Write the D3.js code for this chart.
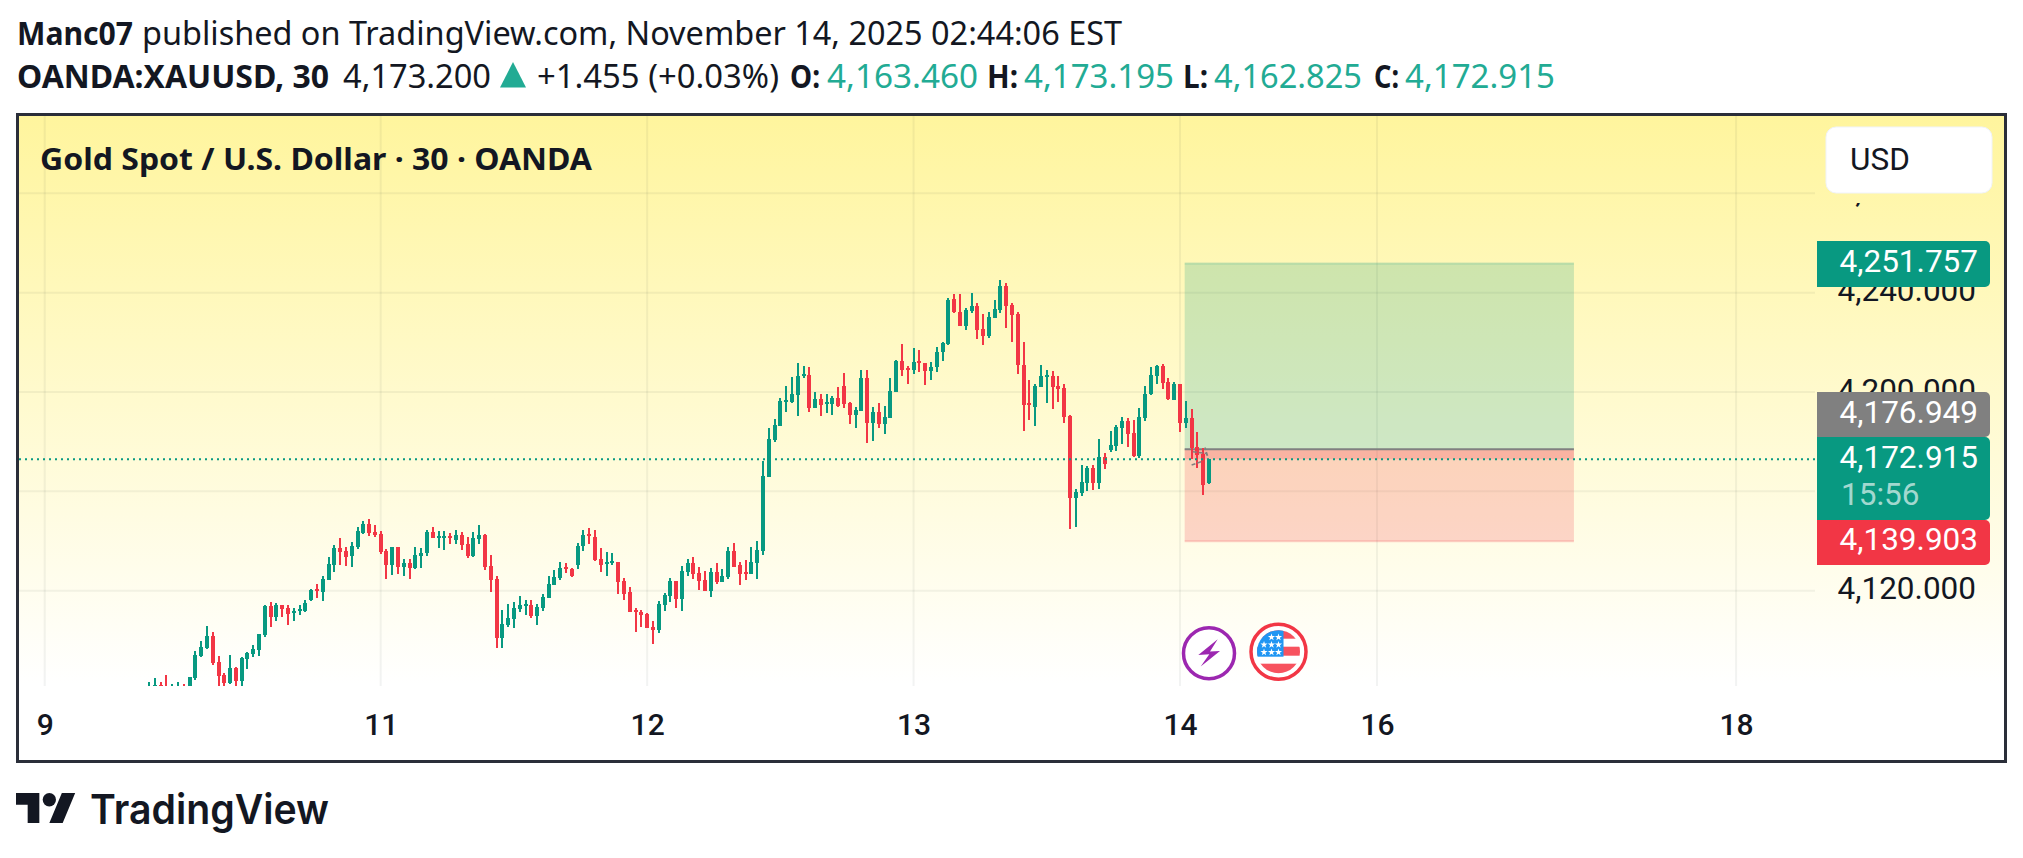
<!DOCTYPE html>
<html>
<head>
<meta charset="utf-8">
<style>
html, body { margin: 0; padding: 0; background: #fff; }
svg { display: block; }
text { fill: #131722; }
.head { font-family: "Noto Sans", sans-serif; font-size: 32px; }
.axis text { font-family: Roboto, sans-serif; font-size: 31.5px; fill: #131722; }
.tag { font-family: Roboto, sans-serif; font-size: 31.5px; fill: #fff; }
</style>
<script src="https://d3js.org/d3.v7.min.js"></script>
</head>
<body>
<svg width="2023" height="858"></svg>
<script>
// candles, 30 minute bars
var highs = [
  4083.2,4084.9,4083.2,4086.1,4082.4,4083.2,4082.4,4085.2,4095.7,4099.8,
  4105.8,4103.4,4093.7,4086.9,4094.1,4089.3,4093.3,4095.3,4098.1,4102.6,
  4114.3,4115.5,4115.1,4114.3,4114.3,4113.0,4114.3,4116.3,4120.7,4122.7,
  4125.9,4133.6,4138.4,4141.2,4137.6,4139.6,4145.7,4148.1,4148.9,4146.5,
  4144.1,4136.8,4137.6,4137.6,4132.8,4132.8,4137.6,4137.2,4144.5,4145.7,
  4144.1,4144.1,4143.3,4144.5,4143.7,4141.6,4143.7,4146.5,4142.9,4134.4,
  4125.9,4112.2,4114.7,4115.5,4117.9,4116.3,4116.3,4114.7,4118.7,4125.9,
  4128.4,4131.6,4131.2,4129.2,4139.2,4144.5,4145.3,4144.5,4137.2,4135.6,
  4135.2,4131.6,4125.1,4121.5,4113.0,4112.2,4111.0,4107.8,4115.9,4119.1,
  4125.1,4123.9,4130.0,4132.8,4133.6,4129.6,4128.0,4129.2,4131.2,4128.8,
  4137.6,4139.2,4131.6,4132.4,4137.6,4140.0,4172.2,4185.5,4189.2,4197.6,
  4202.5,4206.1,4211.7,4210.5,4210.1,4200.0,4199.2,4199.2,4198.4,4202.1,
  4207.7,4196.0,4194.0,4208.9,4208.9,4194.0,4195.6,4194.4,4205.7,4212.9,
  4219.4,4210.5,4217.8,4217.0,4211.7,4212.1,4218.2,4220.2,4237.9,4239.5,
  4239.5,4233.9,4239.9,4235.9,4231.5,4232.3,4237.1,4245.1,4243.9,4235.9,
  4232.3,4220.2,4204.9,4203.3,4210.9,4208.9,4208.5,4206.5,4203.3,4190.8,
  4161.0,4170.7,4170.3,4170.7,4181.1,4175.5,4184.4,4186.8,4190.0,4189.6,
  4188.8,4193.6,4202.5,4210.1,4210.9,4211.3,4205.7,4204.1,4203.3,4196.4,
  4193.2,4184.0,4177.5,4173.195
];
var opens = [
  4078.7,4080.0,4082.0,4080.7,4079.8,4080.0,4081.4,4078.7,4084.9,4093.7,
  4096.9,4101.8,4091.3,4086.1,4082.8,4088.9,4083.6,4092.5,4094.5,4096.1,
  4102.2,4113.9,4109.4,4114.3,4113.0,4111.0,4111.8,4111.8,4116.3,4120.7,
  4119.5,4124.3,4130.4,4137.2,4136.0,4134.0,4137.6,4143.3,4146.9,4143.7,
  4142.9,4136.0,4130.4,4137.6,4129.6,4131.2,4129.2,4134.0,4135.2,4143.7,
  4141.2,4141.2,4142.0,4140.4,4142.4,4138.8,4134.0,4140.8,4142.4,4130.0,
  4124.7,4101.0,4106.2,4108.6,4112.6,4113.9,4114.3,4109.8,4113.0,4117.1,
  4122.3,4125.1,4129.6,4128.8,4130.4,4138.0,4142.9,4141.6,4132.8,4130.8,
  4131.2,4131.6,4123.9,4119.5,4112.2,4111.4,4110.6,4105.4,4104.2,4114.3,
  4117.9,4123.9,4116.7,4127.5,4131.2,4127.1,4124.3,4119.9,4127.5,4123.5,
  4125.5,4136.0,4130.4,4127.5,4126.7,4131.2,4136.0,4165.8,4180.7,4186.3,
  4196.0,4196.0,4198.8,4206.5,4206.9,4193.6,4197.2,4195.2,4195.2,4197.6,
  4202.5,4195.6,4190.8,4192.4,4205.7,4187.6,4192.0,4187.2,4189.6,4200.0,
  4212.5,4209.7,4208.9,4212.5,4211.7,4208.5,4210.1,4216.1,4219.4,4237.5,
  4232.3,4226.6,4232.7,4234.7,4225.4,4222.6,4229.8,4233.1,4242.7,4235.1,
  4231.5,4210.9,4195.6,4194.0,4202.1,4206.1,4206.5,4202.5,4201.7,4190.4,
  4157.4,4159.4,4163.4,4169.5,4163.4,4173.9,4176.7,4178.3,4185.6,4188.4,
  4183.6,4174.3,4189.6,4199.3,4206.5,4210.5,4204.1,4196.8,4203.3,4187.6,
  4189.6,4177.9,4175.1,4163.46
];
var closes = [
  4080.7,4082.0,4080.0,4078.7,4080.7,4081.4,4080.0,4085.2,4094.1,4097.3,
  4101.8,4090.9,4085.7,4082.8,4088.9,4083.6,4092.9,4094.9,4096.5,4102.6,
  4113.9,4109.4,4114.3,4112.6,4110.6,4111.8,4112.6,4115.1,4120.3,4119.9,
  4124.7,4130.8,4137.2,4135.6,4133.6,4138.0,4144.1,4146.9,4143.3,4142.4,
  4135.6,4130.4,4137.6,4129.6,4131.2,4129.2,4134.4,4135.2,4143.7,4141.2,
  4142.0,4142.0,4141.2,4142.4,4138.4,4134.0,4141.2,4142.4,4129.6,4124.3,
  4101.0,4106.6,4109.0,4113.0,4114.3,4114.7,4109.8,4113.4,4117.5,4122.7,
  4125.5,4129.2,4128.8,4125.9,4138.0,4142.4,4142.0,4132.4,4130.4,4131.6,
  4132.0,4123.5,4118.7,4111.4,4111.4,4110.2,4105.0,4104.2,4114.7,4118.3,
  4123.9,4116.7,4128.0,4131.2,4126.7,4123.9,4119.9,4127.5,4123.5,4125.9,
  4136.0,4129.6,4126.7,4126.7,4131.6,4136.4,4166.2,4181.1,4186.7,4196.4,
  4196.8,4199.2,4206.5,4207.3,4193.6,4197.2,4194.8,4196.0,4197.6,4194.4,
  4195.2,4190.8,4192.8,4205.7,4187.6,4192.0,4187.2,4190.0,4200.4,4212.5,
  4208.9,4208.9,4212.1,4211.7,4208.5,4210.1,4216.1,4219.8,4237.1,4232.3,
  4226.6,4233.1,4234.7,4225.0,4222.6,4230.2,4233.5,4242.7,4234.7,4231.0,
  4210.9,4194.8,4194.8,4202.5,4206.5,4206.9,4202.1,4201.3,4190.0,4157.4,
  4159.8,4163.8,4169.5,4163.4,4173.9,4171.1,4178.7,4186.0,4188.4,4183.2,
  4174.3,4190.0,4199.3,4206.9,4210.5,4203.7,4197.2,4203.3,4187.6,4189.6,
  4177.5,4174.7,4162.6,4172.915
];
var lows = [
  4077.3,4078.7,4078.7,4077.3,4078.7,4078.7,4078.7,4078.0,4084.0,4093.3,
  4096.5,4090.1,4080.7,4080.7,4082.4,4080.7,4080.7,4088.5,4093.3,4093.7,
  4101.4,4105.4,4107.8,4109.4,4106.2,4107.8,4110.2,4111.4,4115.9,4117.1,
  4115.9,4124.3,4127.5,4130.4,4130.0,4129.6,4136.8,4142.9,4142.0,4141.6,
  4134.8,4124.7,4126.3,4126.7,4125.9,4124.7,4128.8,4129.2,4134.0,4141.2,
  4137.2,4136.4,4138.8,4138.8,4136.4,4133.2,4133.6,4138.8,4128.4,4119.5,
  4096.9,4096.9,4105.4,4105.0,4111.4,4110.2,4109.0,4106.2,4111.8,4117.1,
  4122.3,4124.3,4127.1,4125.5,4128.8,4136.0,4138.8,4132.0,4127.5,4125.9,
  4130.4,4118.7,4116.3,4111.4,4103.4,4105.4,4105.0,4098.5,4103.0,4111.8,
  4115.5,4113.0,4111.8,4125.9,4124.7,4120.3,4119.9,4117.5,4122.7,4123.5,
  4124.7,4129.6,4122.3,4124.3,4126.7,4124.7,4134.4,4165.8,4179.9,4186.3,
  4192.0,4195.6,4190.4,4205.7,4192.0,4193.6,4190.4,4191.6,4190.8,4194.0,
  4193.6,4187.2,4185.5,4192.4,4179.5,4180.3,4185.5,4183.1,4189.6,4200.0,
  4206.5,4203.3,4207.3,4208.1,4202.9,4204.9,4208.1,4212.5,4219.0,4231.9,
  4226.6,4225.0,4231.9,4221.4,4219.0,4221.8,4229.8,4231.9,4225.8,4220.2,
  4207.3,4184.3,4188.8,4186.3,4202.1,4195.6,4193.2,4196.0,4187.6,4144.9,
  4145.7,4158.2,4160.2,4160.6,4161.0,4169.1,4175.9,4176.3,4179.1,4177.9,
  4173.9,4173.5,4188.4,4198.9,4203.3,4201.3,4196.8,4196.8,4184.0,4185.6,
  4173.1,4169.5,4158.6,4162.825
];

var priceTicks = [4120, 4160, 4200, 4240, 4280];
var labelledTicks = [4120, 4200, 4240, 4280];
var dayBars = [-18, 40, 86, 132, 178, 212, 274];
var dayLabels = ["9", "11", "12", "13", "14", "16", "18"];

var lastPrice = 4172.915;
var targetPrice = 4251.757;
var entryPrice = 4176.949;
var stopPrice = 4139.903;
var toolBars = [178.8, 246];

// the small grey tool path around the last bars
var tracks = [
  { bars: [180, 181.7], prices: [4170.6, 4172] },
  { bars: [180.2, 182.5, 182.8, 182.3], prices: [4176, 4175.3, 4174, 4177.7] }
];

var green = "#089981", red = "#F23645", teal = "#22AB94", ink = "#131722";
var fmt = d3.format(",.3f");

var svg = d3.select("svg");

var x = d3.scaleLinear().domain([0, 183]).range([149, 1209]);
var y = d3.scaleLinear().domain([4120, 4240]).range([590.7, 292.7]);

var pane = { left: 19, right: 2005, top: 115, bottom: 761, gridRight: 1815, gridBottom: 686 };

var defs = svg.append("defs");
var grad = defs.append("linearGradient").attr("id", "bg").attr("x1", 0).attr("x2", 0).attr("y1", 0).attr("y2", 1);
grad.append("stop").attr("offset", 0).attr("stop-color", "#FFF59D");
grad.append("stop").attr("offset", 0.88).attr("stop-color", "#FFFFFF");
defs.append("clipPath").attr("id", "plot").append("rect")
    .attr("x", pane.left).attr("y", pane.top)
    .attr("width", pane.gridRight - pane.left).attr("height", pane.gridBottom - pane.top);
defs.append("clipPath").attr("id", "under-usd").append("rect")
    .attr("x", 1815).attr("y", 203).attr("width", 190).attr("height", 558);

svg.append("rect")
    .attr("x", pane.left).attr("y", pane.top)
    .attr("width", pane.right - pane.left).attr("height", pane.bottom - pane.top)
    .attr("fill", "url(#bg)");

// grid
var plot = svg.append("g").attr("clip-path", "url(#plot)");
plot.selectAll(".hgrid").data(priceTicks).enter().append("line")
    .attr("x1", pane.left).attr("x2", pane.gridRight)
    .attr("y1", function(d) { return y(d); }).attr("y2", function(d) { return y(d); })
    .attr("stroke", "rgba(42,46,57,0.06)").attr("stroke-width", 2);
plot.selectAll(".vgrid").data(dayBars).enter().append("line")
    .attr("x1", function(d) { return x(d); }).attr("x2", function(d) { return x(d); })
    .attr("y1", pane.top).attr("y2", pane.gridBottom)
    .attr("stroke", "rgba(42,46,57,0.06)").attr("stroke-width", 2);

// long position tool
var tool = plot.append("g");
tool.append("rect")
    .attr("x", x(toolBars[0])).attr("width", x(toolBars[1]) - x(toolBars[0]))
    .attr("y", y(targetPrice)).attr("height", y(entryPrice) - y(targetPrice))
    .attr("fill", "rgba(8,153,129,0.2)");
tool.append("rect")
    .attr("x", x(toolBars[0])).attr("width", x(toolBars[1]) - x(toolBars[0]))
    .attr("y", y(entryPrice)).attr("height", y(stopPrice) - y(entryPrice))
    .attr("fill", "rgba(242,54,69,0.2)");
tool.append("rect")
    .attr("x", x(toolBars[0])).attr("width", x(toolBars[1]) - x(toolBars[0]))
    .attr("y", y(entryPrice)).attr("height", y(lastPrice) - y(entryPrice))
    .attr("fill", "rgba(242,54,69,0.2)");
[[targetPrice, "rgba(8,153,129,0.2)"], [stopPrice, "rgba(242,54,69,0.2)"], [entryPrice, "#808080"]].forEach(function(e) {
  tool.append("line")
      .attr("x1", x(toolBars[0])).attr("x2", x(toolBars[1]))
      .attr("y1", y(e[0])).attr("y2", y(e[0]))
      .attr("stroke", e[1]).attr("stroke-width", 2);
});

// candles
var bars = plot.append("g").selectAll("g").data(d3.range(highs.length)).enter().append("g")
    .attr("fill", function(i) { return closes[i] >= opens[i] ? green : red; })
    .attr("shape-rendering", "crispEdges");
bars.append("rect")
    .attr("x", function(i) { return Math.round(x(i)) - 1; })
    .attr("width", 2)
    .attr("y", function(i) { return y(highs[i]); })
    .attr("height", function(i) { return y(lows[i]) - y(highs[i]); });
bars.append("rect")
    .attr("x", function(i) { return Math.round(x(i)) - 2; })
    .attr("width", 4)
    .attr("y", function(i) { return y(Math.max(opens[i], closes[i])); })
    .attr("height", function(i) { return Math.max(2, Math.abs(y(opens[i]) - y(closes[i]))); });

var trackLine = d3.line()
    .x(function(d) { return x(d[0]); })
    .y(function(d) { return y(d[1]); });
tracks.forEach(function(t) {
  plot.append("path")
      .attr("d", trackLine(d3.zip(t.bars, t.prices)))
      .attr("fill", "none").attr("stroke", "#808080").attr("stroke-width", 1.5)
      .attr("stroke-dasharray", "4 2");
});

// last price line
svg.append("line")
    .attr("x1", pane.left).attr("x2", pane.gridRight)
    .attr("y1", y(lastPrice)).attr("y2", y(lastPrice))
    .attr("stroke", green).attr("stroke-width", 2).attr("stroke-dasharray", "2 4");

// frame
svg.append("rect")
    .attr("x", 17.5).attr("y", 114.5)
    .attr("width", 1988).attr("height", 647)
    .attr("fill", "none").attr("stroke", "#2A2E39").attr("stroke-width", 3);

// axes
var xAxis = d3.axisBottom(x).tickValues(dayBars)
    .tickFormat(function(d, i) { return dayLabels[i]; }).tickSize(0);
var xg = svg.append("g").attr("class", "axis").attr("transform", "translate(0,735)").call(xAxis);
xg.select(".domain").remove();
xg.selectAll("text").attr("y", 0).attr("dy", 0).style("font-size", "30px").style("font-weight", 500);

var yAxis = d3.axisRight(y).tickValues(labelledTicks).tickFormat(fmt).tickSize(0);
var yg = svg.append("g").attr("class", "axis").attr("clip-path", "url(#under-usd)").append("g").call(yAxis);
yg.select(".domain").remove();
yg.selectAll("text").attr("x", 1976).attr("dy", "8px").attr("text-anchor", "end");

// price tags
var tags = svg.append("g");
function tag(top, bottom, fill) {
  tags.append("path")
      .attr("d", "M1817," + top + "H1985a5,5 0 0 1 5,5V" + (bottom - 5) + "a5,5 0 0 1 -5,5H1817Z")
      .attr("fill", fill);
}
function tagText(str, base, dim) {
  tags.append("text").attr("class", "tag")
      .attr("x", dim ? 1841 : 1978).attr("y", base)
      .attr("text-anchor", dim ? "start" : "end")
      .style("fill-opacity", dim ? 0.65 : 1)
      .text(str);
}
tag(241, 287, green);
tag(392, 437, "#808080");
tag(437, 520, green);
tag(520, 565, red);
tagText(fmt(targetPrice), 272);
tagText(fmt(entryPrice), 423);
tagText(fmt(lastPrice), 468);
tagText("15:56", 505, true);
tagText(fmt(stopPrice), 550);

// USD box
svg.append("rect")
    .attr("x", 1826).attr("y", 127).attr("width", 166).attr("height", 66).attr("rx", 10)
    .attr("fill", "#fff").attr("stroke", "#F0F3FA").attr("stroke-width", 1);
svg.append("text")
    .attr("x", 1850).attr("y", 169.5)
    .style("font-family", "Roboto, sans-serif").style("font-size", "31.5px")
    .text("USD");

// event icons
var bolt = svg.append("g").attr("transform", "translate(" + x(183) + ",653.3)");
bolt.append("circle").attr("r", 25.5).attr("fill", "#fff").attr("stroke", "#9C27B0").attr("stroke-width", 3.5);
bolt.append("path")
    .attr("d", "M8.7,-14L-10.7,1.7L0.3,1L-8.3,13.3L11,-2.3L1,-1.7Z")
    .attr("fill", "#9C27B0");

var flag = svg.append("g").attr("transform", "translate(" + x(195) + ",651.7)");
flag.append("circle").attr("r", 27.5).attr("fill", "#fff").attr("stroke", red).attr("stroke-width", 3.5);
defs.append("clipPath").attr("id", "flagclip").append("circle").attr("r", 21.5);
var flagInner = flag.append("g").attr("clip-path", "url(#flagclip)");
flagInner.append("rect").attr("x", -22).attr("y", -22).attr("width", 44).attr("height", 44).attr("fill", "#fff");
flagInner.append("rect").attr("x", -22).attr("y", -22).attr("width", 44).attr("height", 9).attr("fill", "#F7525F");
flagInner.append("rect").attr("x", -22).attr("y", -5).attr("width", 44).attr("height", 9).attr("fill", "#F7525F");
flagInner.append("rect").attr("x", -22).attr("y", 12).attr("width", 44).attr("height", 10).attr("fill", "#F7525F");
flagInner.append("rect").attr("x", -22).attr("y", -22).attr("width", 27).attr("height", 27).attr("fill", "#2196F3");
var star = d3.symbol().type(d3.symbolStar).size(16);
[-14.5, -7, 0.5].forEach(function(sy, r) {
  [-14.5, -7, 0].forEach(function(sx, c) {
    if (r === 0 && c === 0) return;
    flagInner.append("path").attr("d", star()).attr("fill", "#fff")
        .attr("transform", "translate(" + sx + "," + sy + ")");
  });
});

// header, each string fitted to the width it has in the reference
function head(str, xPos, base, len, opt) {
  opt = opt || {};
  svg.append("text").attr("class", "head")
      .attr("x", xPos).attr("y", base)
      .attr("textLength", len).attr("lengthAdjust", "spacingAndGlyphs")
      .style("font-weight", opt.bold ? 700 : 400)
      .style("font-size", opt.size || null)
      .style("fill", opt.color || ink)
      .text(str);
}
head("Manc07", 17, 45, 116, { bold: true });
head("published on TradingView.com, November 14, 2025 02:44:06 EST", 142, 45, 980);
head("OANDA:XAUUSD, 30", 17, 88, 312, { bold: true });
head("4,173.200", 343, 88, 148);
svg.append("path").attr("d", "M513,62L526,87.5H500Z").attr("fill", teal);
head("+1.455 (+0.03%)", 537, 88, 242);
head("O:", 790, 88, 30, { bold: true });
head("4,163.460", 827, 88, 151, { color: teal });
head("H:", 987, 88, 31, { bold: true });
head("4,173.195", 1024, 88, 150, { color: teal });
head("L:", 1183, 88, 25, { bold: true });
head("4,162.825", 1214, 88, 148, { color: teal });
head("C:", 1374, 88, 25, { bold: true });
head("4,172.915", 1405, 88, 150, { color: teal });
head("Gold Spot / U.S. Dollar \u00b7 30 \u00b7 OANDA", 40, 170, 552, { bold: true, size: "31px" });

// logo
svg.append("path")
    .attr("transform", "translate(16,786.4) scale(1.667)")
    .attr("d", "M14 22H7V11H0V4h14v18zM28 22h-8l7.5-18h8L28 22z")
    .attr("fill", ink);
svg.append("circle")
    .attr("transform", "translate(16,786.4) scale(1.667)")
    .attr("cx", 20).attr("cy", 8).attr("r", 4).attr("fill", ink);
svg.append("text")
    .attr("x", 90).attr("y", 824)
    .attr("textLength", 239).attr("lengthAdjust", "spacingAndGlyphs")
    .style("font-family", "Inter, sans-serif").style("font-size", "41px").style("font-weight", 600)
    .text("TradingView");
</script>
</body>
</html>
